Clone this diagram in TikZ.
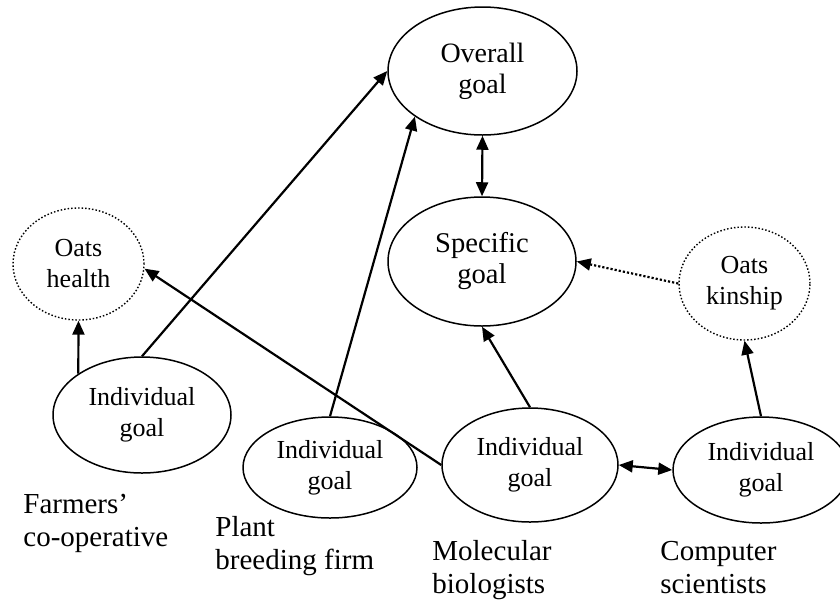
\documentclass[tikz,border=0pt]{standalone}
\usepackage{fontspec}
\setmainfont{Liberation Serif}
\usepackage{tikz}
\usetikzlibrary{arrows.meta,shapes.geometric}

\begin{document}
\begin{tikzpicture}[x=0.5pt,y=-0.5pt,
    goal/.style={ellipse,draw,line width=0.75pt,inner sep=0pt,align=center,
        font=\fontsize{13}{15.5}\selectfont},
    oats/.style={goal,densely dotted,line width=0.7pt},
    link/.style={line width=1.1pt,-{Triangle[length=7pt,width=6pt]}},
    twoway/.style={line width=1.1pt,{Triangle[length=7pt,width=6pt]}-{Triangle[length=7pt,width=6pt]}},
    who/.style={anchor=north west,inner sep=0pt,align=left,
        font=\fontsize{14.5}{16.5}\selectfont}]
\useasboundingbox (0,0) rectangle (840,601);

% Shared goals
\node[goal,minimum width=94.5pt,minimum height=64pt,font=\fontsize{14}{15.5}\selectfont]
    (over) at (482.5,71) {Overall\\goal};
\node[goal,minimum width=94pt,minimum height=64.5pt,font=\fontsize{14.3}{15.5}\selectfont]
    (spec) at (482,261.5) {Specific\\goal};

% Oats goals
\node[oats,minimum width=65.5pt,minimum height=56pt] (oatsh) at (78.5,264) {Oats\\health};
\node[oats,minimum width=65.5pt,minimum height=56.5pt] (oatsk) at (744.5,283.5) {Oats\\kinship};

% Individual goals
\node[goal,minimum width=89pt,minimum height=58pt] (farm) at (142,415) {Individual\\goal};
\node[goal,minimum width=87pt,minimum height=50.5pt] (plant) at (330,467.5) {Individual\\goal};
\node[goal,minimum width=88pt,minimum height=57pt] (mol) at (530,465) {Individual\\goal};
\node[goal,minimum width=88pt,minimum height=53pt] (comp) at (761,470) {Individual\\goal};

% Partners
\node[who] (lfarm) at (23,494) {Farmers'\\co-operative};
\node[who] (lplant) at (215,516) {Plant\\breeding firm};
\node[who] (lmol) at (432,540) {Molecular\\biologists};
\node[who] (lcomp) at (660,541) {Computer\\scientists};

% Links
\draw[twoway] (over.south) -- (spec.north);
\draw[link] (farm.147) -- (oatsh.south);
\draw[link] (farm.north) -- (over.west);
\draw[link] (plant.north) -- (over.214);
\draw[link] (mol.west) -- (oatsh.-4);
\draw[link] (mol.north) -- (spec.south);
\draw[twoway] (mol.east) -- (comp.west);
\draw[link] (comp.north) -- (oatsk.south);
\draw[link,densely dotted] (oatsk.west) -- (spec.east);
\end{tikzpicture}
\end{document}
